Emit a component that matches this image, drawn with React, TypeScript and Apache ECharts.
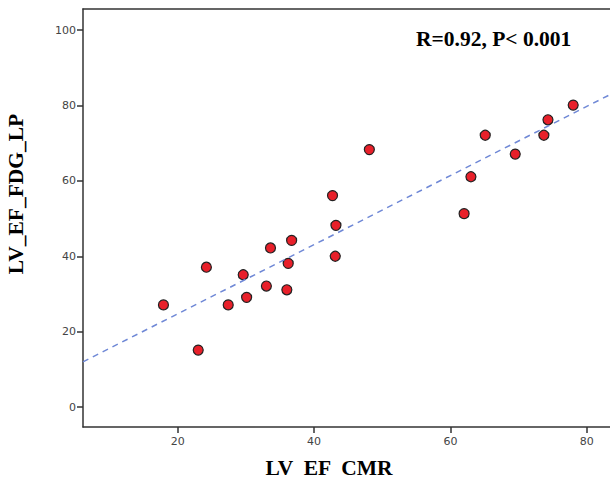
import React, { useEffect, useRef } from "react";
import * as echarts from "echarts";

const cmrEF = [17.9, 23.0, 24.2, 27.4, 29.6, 30.1, 33.0, 33.6, 36.0, 36.2, 36.7, 42.7, 43.2, 43.1, 48.1, 62.0, 63.0, 65.1, 69.5, 73.7, 74.3, 78.0];
const fdgEF = [27.1, 15.1, 37.1, 27.1, 35.1, 29.1, 32.1, 42.2, 31.1, 38.1, 44.2, 56.1, 48.2, 40.0, 68.3, 51.3, 61.1, 72.1, 67.1, 72.1, 76.2, 80.1];
const xTicks = [20, 40, 60, 80];
const yTicks = [0, 20, 40, 60, 80, 100];
const FIT_INTERCEPT = 6.4;
const FIT_SLOPE = 0.917;
const X_MIN = 6.1;
const X_MAX = 83.4;
const Y_MIN = -5.3;
const Y_MAX = 105.6;
const annotation = "R=0.92, P< 0.001";
const xName = "LV  EF  CMR";
const yName = "LV_EF_FDG_LP";

export default function App() {
  const ref = useRef<HTMLDivElement>(null);
  useEffect(() => {
    document.body.style.margin = "0";
    const chart = echarts.init(ref.current!, null, { renderer: "svg" });
    const serif = "'Liberation Serif', 'Times New Roman', serif";
    const axisLine = { show: true, lineStyle: { color: "#333", width: 1.5 } };
    const tickLabel = { fontFamily: "'DejaVu Sans', sans-serif", fontSize: 11, color: "#444" };
    chart.setOption({
      animation: false,
      grid: { left: 83, top: 9, right: 0, bottom: 57 },
      xAxis: [
        {
          type: "value",
          min: X_MIN,
          max: X_MAX,
          axisLine: { ...axisLine, onZero: false },
          axisTick: { show: true, inside: false, customValues: xTicks, length: 6, lineStyle: { color: "#333", width: 1.5 } },
          axisLabel: { ...tickLabel, customValues: xTicks, margin: 9 },
          splitLine: { show: false },
        },
        {
          type: "value",
          position: "top",
          min: X_MIN,
          max: X_MAX,
          axisLine: { ...axisLine, onZero: false },
          axisTick: { show: false },
          axisLabel: { show: false },
          splitLine: { show: false },
        },
      ],
      yAxis: {
        type: "value",
        min: Y_MIN,
        max: Y_MAX,
        axisLine: { ...axisLine, onZero: false },
        axisTick: { show: true, inside: false, customValues: yTicks, length: 6, lineStyle: { color: "#333", width: 1.5 } },
        axisLabel: { ...tickLabel, customValues: yTicks, margin: 7 },
        splitLine: { show: false },
      },
      graphic: [
        {
          type: "text",
          x: 416,
          y: 39,
          style: { text: annotation, font: `bold 21.5px ${serif}`, fill: "#000", verticalAlign: "middle" },
        },
        {
          type: "text",
          x: 329,
          y: 468,
          style: { text: xName, font: `bold 21.5px ${serif}`, fill: "#000", align: "center", verticalAlign: "middle" },
        },
        {
          type: "text",
          x: 16,
          y: 194,
          rotation: Math.PI / 2,
          style: { text: yName, font: `bold 21.5px ${serif}`, fill: "#000", align: "center", verticalAlign: "middle" },
        },
      ],
      series: [
        {
          type: "line",
          data: [
            [X_MIN, FIT_INTERCEPT + FIT_SLOPE * X_MIN],
            [X_MAX, FIT_INTERCEPT + FIT_SLOPE * X_MAX],
          ],
          symbol: "none",
          lineStyle: { color: "#6f88d6", width: 1.5, type: [6, 5] },
          silent: true,
        },
        {
          type: "scatter",
          data: cmrEF.map((x, i) => [x, fdgEF[i]]),
          symbol: "circle",
          symbolSize: 10,
          itemStyle: { color: "#e8202a", opacity: 1, borderColor: "#222", borderWidth: 1.2 },
        },
      ],
    });
    return () => chart.dispose();
  }, []);
  return <div ref={ref} style={{ width: 610, height: 484 }} />;
}
